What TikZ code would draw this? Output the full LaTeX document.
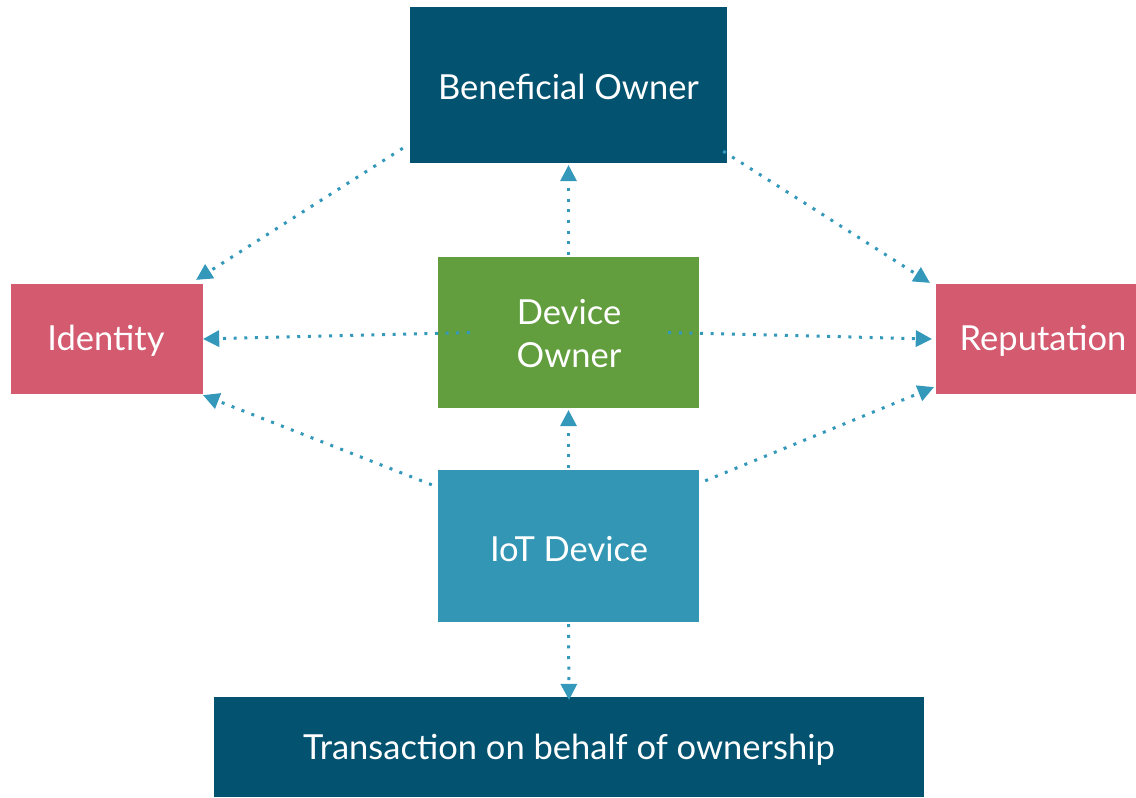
\documentclass[tikz,border=0pt]{standalone}
\usepackage{fontspec}
\setmainfont{Lato}
\usetikzlibrary{arrows.meta,calc}
\definecolor{navy}{HTML}{03526F}
\definecolor{rose}{HTML}{D35A6F}
\definecolor{leaf}{HTML}{639E3E}
\definecolor{sea}{HTML}{3296B4}
\definecolor{link}{HTML}{3398BA}
\tikzset{
  box/.style={fill=#1, draw=none, inner sep=0pt},
  label/.style={text=white, inner sep=0pt, align=center,
    font=\fontsize{34.5}{43}\selectfont},
  link/.style={draw=link, line width=3pt, dash pattern=on 3pt off 7.6pt,
    -{Triangle[length=16pt,width=17pt,fill=link,line width=0pt]}},
}
\begin{document}
\begin{tikzpicture}[x=1pt,y=-1pt]
\useasboundingbox (0,0) rectangle (1136,798);

% boxes and their captions
\node[box=navy, minimum width=317, minimum height=156] (bo) at (568.5,85) {};
\node[label] (botext) at (568.5,87) {Beneficial Owner};
\node[box=rose, minimum width=192, minimum height=110] (id) at (107,339) {};
\node[label] (idtext) at (106,341) {Identity};
\node[box=rose, minimum width=200, minimum height=110] (rep) at (1036,339) {};
\node[label] (reptext) at (1043,341) {Reputation};
\node[box=leaf, minimum width=261, minimum height=151] (do) at (568.5,332.5) {};
\node[label] (dotext) at (569,334) {Device\\Owner};
\node[box=sea, minimum width=261, minimum height=152] (iot) at (568.5,546) {};
\node[label] (iottext) at (569,549) {IoT Device};
\node[box=navy, minimum width=710, minimum height=100] (tr) at (569,747) {};
\node[label] (trtext) at (569,750) {Transaction on behalf of ownership};

% connector end points around the boxes
\coordinate (boL) at ($(bo.south west)+(-7,-15)$);
\coordinate (boR) at ($(bo.south east)+(-4,-12)$);
\coordinate (idTop) at ($(id.north east)+(-7,-4)$);
\coordinate (repTop) at ($(rep.north west)+(-6,-1)$);
\coordinate (doL) at ($(do.west)+(32,0)$);
\coordinate (doR) at ($(do.east)+(-31,0)$);
\coordinate (idMid) at ($(id.east)+(0,0)$);
\coordinate (repMid) at ($(rep.west)+(-4,0)$);
\coordinate (iotL) at ($(iot.north west)+(-6,15)$);
\coordinate (iotR) at ($(iot.north east)+(6,11)$);
\coordinate (idBot) at ($(id.south east)+(0,1)$);
\coordinate (repBot) at ($(rep.south west)+(-2,-7)$);

% connectors
\draw[link] (boL) -- (idTop);
\draw[link] (boR) -- (repTop);
\draw[link] (doL) -- (idMid);
\draw[link] (doR) -- (repMid);
\draw[link] (iotL) -- (idBot);
\draw[link] (iotR) -- (repBot);
\draw[link] ($(do.north)+(0,-2)$) -- ($(bo.south)+(0,2)$);
\draw[link] ($(iot.north)+(0,-2)$) -- ($(do.south)+(0,2)$);
\draw[link] ($(iot.south)+(0,2)$) -- ($(tr.north)+(0,3)$);
\end{tikzpicture}
\end{document}
